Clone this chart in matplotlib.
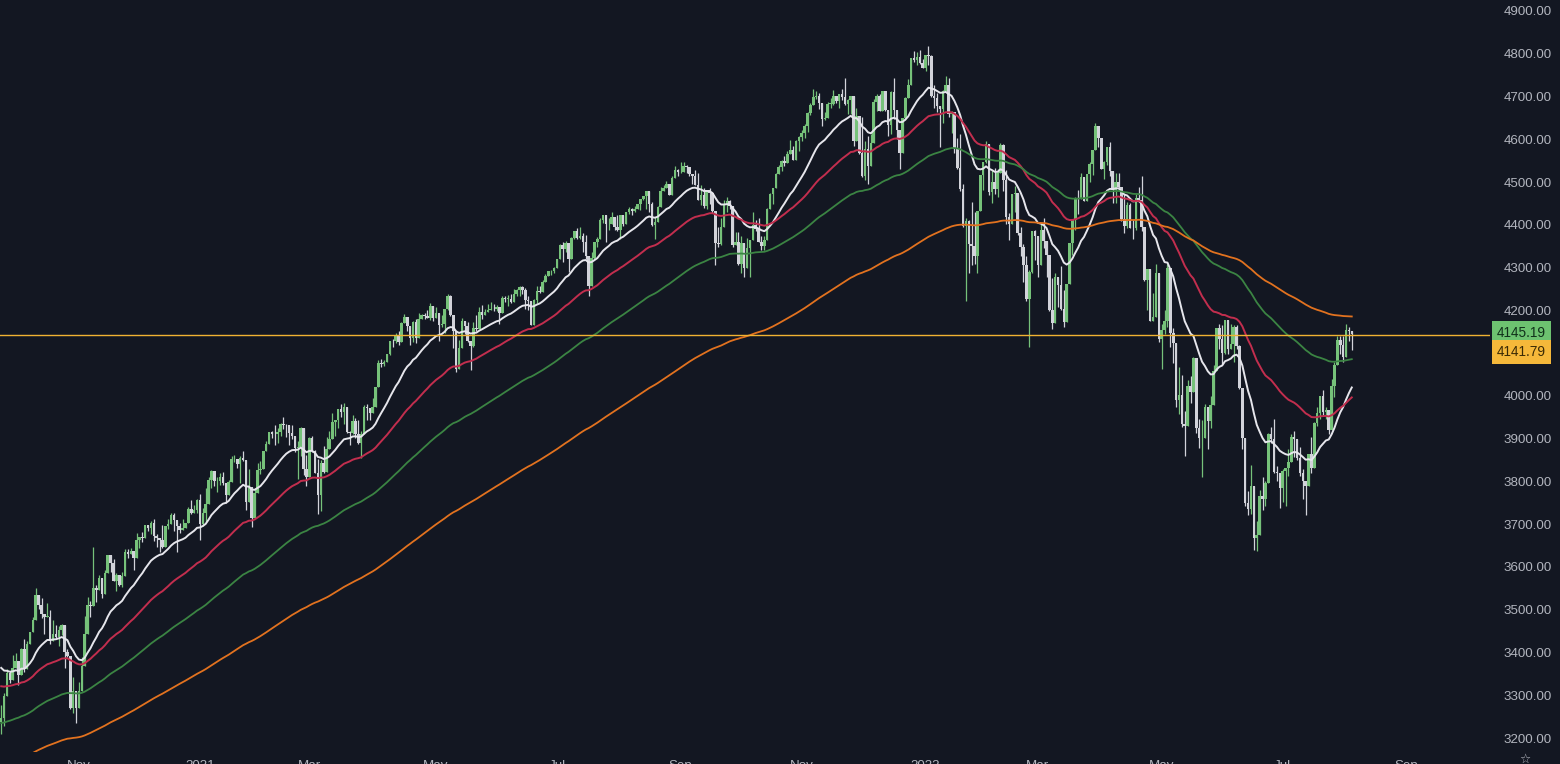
import numpy as np
import pandas as pd
import matplotlib
matplotlib.use("Agg")
import matplotlib.pyplot as plt

# S&P 500 daily bars, 24 Sep 2020 .. 5 Aug 2022 (one row per month)
close = [
    3247, 3298, 3352, 3335, 3363,
    3381, 3348, 3409, 3361, 3419, 3447, 3477, 3534, 3512, 3489, 3483, 3484, 3427, 3443, 3436, 3453, 3465, 3401, 3391, 3271, 3310, 3270,
    3310, 3369, 3443, 3510, 3509, 3551, 3546, 3573, 3537, 3585, 3627, 3610, 3568, 3582, 3558, 3578, 3635, 3630, 3638, 3622,
    3662, 3669, 3667, 3699, 3692, 3702, 3673, 3668, 3663, 3647, 3695, 3701, 3722, 3709, 3695, 3687, 3690, 3703, 3735, 3727, 3732, 3756,
    3701, 3727, 3748, 3804, 3825, 3800, 3801, 3810, 3796, 3768, 3799, 3852, 3853, 3841, 3855, 3850, 3751, 3787, 3714,
    3774, 3826, 3830, 3872, 3887, 3916, 3911, 3910, 3916, 3935, 3933, 3931, 3914, 3907, 3877, 3881, 3925, 3829, 3811,
    3902, 3870, 3820, 3768, 3842, 3821, 3875, 3899, 3939, 3943, 3969, 3963, 3974, 3915, 3913, 3941, 3911, 3889, 3910, 3975, 3971, 3959, 3973,
    4020, 4078, 4074, 4080, 4097, 4129, 4128, 4142, 4125, 4170, 4185, 4163, 4135, 4173, 4135, 4180, 4188, 4187, 4183, 4211, 4181,
    4193, 4165, 4168, 4202, 4233, 4188, 4152, 4063, 4113, 4174, 4163, 4128, 4116, 4159, 4156, 4197, 4188, 4196, 4201, 4204,
    4202, 4208, 4193, 4230, 4227, 4227, 4220, 4239, 4247, 4255, 4247, 4224, 4222, 4166, 4225, 4246, 4242, 4266, 4281, 4291, 4292, 4298,
    4320, 4352, 4344, 4358, 4321, 4370, 4385, 4369, 4374, 4360, 4327, 4258, 4323, 4359, 4367, 4412, 4422, 4401, 4401, 4419, 4395,
    4387, 4423, 4403, 4429, 4437, 4432, 4437, 4448, 4461, 4468, 4480, 4448, 4400, 4406, 4442, 4480, 4486, 4496, 4470, 4509, 4529, 4523,
    4524, 4537, 4535, 4520, 4514, 4493, 4459, 4469, 4443, 4481, 4474, 4433, 4358, 4354, 4396, 4449, 4455, 4443, 4353, 4359, 4308,
    4357, 4300, 4346, 4364, 4400, 4391, 4361, 4351, 4364, 4438, 4471, 4486, 4520, 4536, 4550, 4545, 4566, 4575, 4552, 4596, 4605,
    4614, 4631, 4661, 4680, 4698, 4702, 4685, 4647, 4649, 4683, 4683, 4701, 4689, 4705, 4698, 4683, 4691, 4701, 4595, 4655, 4567,
    4513, 4577, 4538, 4592, 4687, 4701, 4667, 4712, 4669, 4634, 4710, 4669, 4621, 4568, 4649, 4697, 4726, 4791, 4786, 4793, 4779, 4766,
    4797, 4794, 4701, 4696, 4677, 4670, 4713, 4726, 4659, 4663, 4577, 4533, 4483, 4398, 4410, 4356, 4350, 4327, 4432, 4516,
    4547, 4589, 4477, 4501, 4484, 4522, 4587, 4504, 4419, 4402, 4471, 4475, 4380, 4349, 4305, 4226, 4289, 4385, 4374,
    4306, 4387, 4363, 4329, 4201, 4171, 4278, 4260, 4204, 4173, 4262, 4358, 4412, 4463, 4461, 4512, 4456, 4520, 4543, 4576, 4632, 4602, 4530,
    4546, 4583, 4525, 4481, 4500, 4488, 4413, 4397, 4447, 4393, 4392, 4462, 4459, 4394, 4272, 4296, 4175, 4184, 4288, 4132,
    4155, 4175, 4300, 4147, 4123, 3991, 4001, 3935, 3930, 4024, 4008, 4089, 3924, 3901, 3901, 3974, 3941, 3979, 4058, 4158, 4132,
    4101, 4177, 4109, 4121, 4161, 4116, 4018, 3901, 3750, 3735, 3790, 3667, 3675, 3765, 3760, 3796, 3912, 3900, 3822, 3819, 3785,
    3825, 3831, 3845, 3903, 3899, 3854, 3819, 3802, 3790, 3863, 3831, 3937, 3960, 3999, 3962, 3967, 3921, 4024, 4072, 4130,
    4119, 4091, 4155, 4152, 4145.19,
]
high = [
    3278, 3306, 3361, 3357, 3393,
    3398, 3369, 3410, 3432, 3427, 3448, 3483, 3550, 3534, 3528, 3485, 3515, 3500, 3476, 3465, 3461, 3466, 3441, 3409, 3342, 3342, 3305,
    3330, 3389, 3486, 3529, 3521, 3646, 3558, 3581, 3570, 3592, 3628, 3624, 3619, 3585, 3582, 3589, 3643, 3643, 3645, 3637,
    3679, 3670, 3682, 3699, 3698, 3708, 3712, 3678, 3665, 3698, 3695, 3712, 3725, 3726, 3703, 3702, 3712, 3703, 3740, 3756, 3745, 3760,
    3770, 3738, 3784, 3811, 3826, 3817, 3811, 3820, 3823, 3795, 3804, 3859, 3861, 3852, 3860, 3871, 3837, 3830, 3778,
    3784, 3843, 3848, 3872, 3894, 3916, 3919, 3931, 3925, 3937, 3950, 3934, 3916, 3931, 3902, 3895, 3928, 3925, 3861,
    3904, 3906, 3874, 3853, 3851, 3882, 3903, 3918, 3960, 3944, 3970, 3982, 3983, 3969, 3918, 3956, 3949, 3943, 3919, 3978, 3981, 3969, 3995,
    4021, 4084, 4086, 4083, 4098, 4129, 4132, 4148, 4151, 4173, 4192, 4180, 4160, 4175, 4180, 4194, 4191, 4194, 4201, 4218, 4199,
    4209, 4187, 4188, 4202, 4238, 4237, 4162, 4134, 4131, 4183, 4169, 4172, 4117, 4172, 4188, 4209, 4213, 4202, 4214, 4219,
    4216, 4212, 4203, 4234, 4233, 4237, 4238, 4249, 4249, 4256, 4258, 4252, 4233, 4204, 4226, 4256, 4256, 4272, 4286, 4292, 4294, 4302,
    4320, 4356, 4359, 4362, 4331, 4372, 4386, 4393, 4394, 4380, 4376, 4296, 4336, 4359, 4372, 4415, 4423, 4416, 4416, 4430, 4412,
    4422, 4424, 4417, 4429, 4441, 4439, 4445, 4449, 4461, 4468, 4480, 4468, 4454, 4419, 4444, 4489, 4492, 4502, 4495, 4513, 4537, 4531,
    4546, 4546, 4541, 4536, 4519, 4529, 4521, 4492, 4486, 4482, 4486, 4471, 4402, 4395, 4416, 4457, 4465, 4458, 4419, 4384, 4383,
    4375, 4356, 4369, 4365, 4429, 4412, 4416, 4374, 4373, 4439, 4475, 4487, 4521, 4540, 4552, 4560, 4572, 4598, 4584, 4598, 4608,
    4621, 4635, 4664, 4684, 4718, 4714, 4708, 4684, 4663, 4688, 4697, 4715, 4701, 4705, 4718, 4744, 4695, 4702, 4665, 4673, 4650,
    4652, 4595, 4608, 4613, 4694, 4706, 4705, 4713, 4711, 4660, 4712, 4744, 4666, 4569, 4650, 4699, 4740, 4791, 4807, 4805, 4809, 4787,
    4797, 4819, 4797, 4726, 4708, 4673, 4715, 4749, 4744, 4666, 4632, 4603, 4612, 4495, 4417, 4411, 4454, 4429, 4433, 4517,
    4547, 4595, 4542, 4528, 4533, 4530, 4591, 4588, 4528, 4427, 4473, 4490, 4456, 4395, 4356, 4326, 4294, 4386, 4389,
    4372, 4401, 4416, 4355, 4328, 4276, 4288, 4269, 4304, 4248, 4262, 4358, 4412, 4465, 4481, 4522, 4502, 4520, 4546, 4576, 4637, 4627, 4604,
    4549, 4583, 4593, 4503, 4521, 4521, 4464, 4471, 4453, 4451, 4411, 4471, 4488, 4513, 4385, 4297, 4278, 4241, 4308, 4270,
    4169, 4200, 4308, 4271, 4158, 4082, 4068, 4050, 3964, 4038, 4047, 4090, 4077, 3946, 3944, 3982, 3955, 3999, 4073, 4158, 4169,
    4166, 4178, 4142, 4169, 4165, 4165, 4120, 3974, 3839, 3778, 3838, 3729, 3708, 3779, 3810, 3802, 3914, 3928, 3945, 3837, 3818,
    3829, 3832, 3875, 3910, 3919, 3880, 3881, 3829, 3797, 3864, 3903, 3940, 3975, 3999, 4013, 3975, 3961, 4040, 4079, 4140,
    4141, 4141, 4167, 4162, 4151,
]
low = [
    3209, 3228, 3331, 3328, 3340,
    3367, 3324, 3368, 3354, 3385, 3428, 3452, 3496, 3501, 3480, 3443, 3483, 3420, 3436, 3433, 3416, 3440, 3364, 3389, 3268, 3259, 3234,
    3280, 3328, 3405, 3485, 3484, 3547, 3518, 3557, 3527, 3544, 3600, 3589, 3567, 3543, 3556, 3553, 3594, 3620, 3630, 3593,
    3645, 3645, 3658, 3670, 3684, 3678, 3660, 3646, 3634, 3644, 3660, 3689, 3711, 3685, 3636, 3679, 3689, 3690, 3724, 3723, 3731, 3726,
    3663, 3695, 3705, 3764, 3784, 3790, 3776, 3792, 3792, 3749, 3780, 3816, 3845, 3831, 3797, 3847, 3733, 3756, 3694,
    3726, 3792, 3817, 3836, 3875, 3892, 3902, 3885, 3891, 3906, 3923, 3905, 3885, 3900, 3868, 3805, 3860, 3815, 3790,
    3843, 3869, 3819, 3724, 3730, 3819, 3852, 3886, 3916, 3906, 3924, 3950, 3935, 3914, 3886, 3911, 3902, 3888, 3854, 3918, 3944, 3944, 3966,
    3992, 4035, 4068, 4069, 4082, 4096, 4114, 4124, 4120, 4143, 4171, 4151, 4118, 4126, 4124, 4139, 4181, 4180, 4181, 4177, 4174,
    4188, 4128, 4161, 4147, 4201, 4187, 4111, 4057, 4069, 4131, 4144, 4126, 4061, 4114, 4152, 4169, 4180, 4188, 4195, 4203,
    4198, 4198, 4167, 4198, 4219, 4210, 4218, 4221, 4233, 4234, 4239, 4203, 4200, 4165, 4174, 4218, 4241, 4254, 4266, 4280, 4282, 4287,
    4301, 4322, 4313, 4336, 4289, 4330, 4366, 4368, 4366, 4337, 4321, 4233, 4263, 4321, 4348, 4377, 4405, 4360, 4389, 4408, 4387,
    4385, 4367, 4398, 4403, 4425, 4424, 4430, 4436, 4435, 4458, 4437, 4430, 4398, 4368, 4407, 4451, 4481, 4486, 4469, 4474, 4513, 4514,
    4521, 4527, 4522, 4513, 4495, 4493, 4457, 4447, 4439, 4436, 4448, 4427, 4306, 4347, 4353, 4406, 4430, 4436, 4347, 4355, 4307,
    4288, 4279, 4309, 4278, 4385, 4386, 4360, 4342, 4341, 4387, 4448, 4448, 4496, 4524, 4526, 4538, 4551, 4570, 4551, 4563, 4573,
    4595, 4604, 4616, 4657, 4681, 4694, 4671, 4630, 4646, 4651, 4672, 4680, 4685, 4672, 4691, 4681, 4659, 4659, 4585, 4626, 4565,
    4511, 4504, 4495, 4540, 4629, 4667, 4665, 4671, 4666, 4608, 4612, 4648, 4600, 4531, 4584, 4645, 4703, 4734, 4781, 4774, 4776, 4766,
    4759, 4774, 4700, 4672, 4663, 4582, 4638, 4723, 4653, 4614, 4569, 4531, 4480, 4396, 4223, 4288, 4305, 4309, 4288, 4435,
    4482, 4544, 4470, 4452, 4472, 4465, 4548, 4478, 4402, 4364, 4429, 4430, 4377, 4327, 4267, 4222, 4115, 4287, 4318,
    4279, 4323, 4345, 4279, 4199, 4157, 4233, 4209, 4201, 4162, 4187, 4277, 4329, 4388, 4425, 4469, 4455, 4455, 4501, 4517, 4589, 4581, 4530,
    4507, 4539, 4515, 4450, 4451, 4485, 4410, 4381, 4392, 4392, 4367, 4389, 4455, 4385, 4268, 4201, 4175, 4174, 4188, 4125,
    4063, 4145, 4162, 4114, 4077, 3975, 3958, 3928, 3859, 3957, 3984, 4034, 3913, 3877, 3810, 3905, 3875, 3925, 3985, 4077, 4110,
    4074, 4097, 4099, 4109, 4080, 4110, 4017, 3876, 3743, 3722, 3723, 3640, 3637, 3706, 3733, 3743, 3822, 3889, 3820, 3800, 3738,
    3752, 3742, 3813, 3858, 3858, 3850, 3812, 3759, 3722, 3818, 3819, 3860, 3930, 3946, 3955, 3947, 3910, 3948, 3998, 4079,
    4097, 4080, 4096, 4128, 4108,
]
prev_close = 3237  # close of 23 Sep 2020, open of the first bar

holidays = ['2020-11-26', '2020-12-25', '2021-01-01', '2021-01-18', '2021-02-15',
            '2021-04-02', '2021-05-31', '2021-07-05', '2021-09-06', '2021-11-25',
            '2021-12-24', '2022-01-17', '2022-02-21', '2022-04-15', '2022-05-30',
            '2022-06-20', '2022-07-04', '2022-09-05']

# moving averages (EMA) and their values at the left edge of the chart
ma_periods = [20, 50, 100, 200]
ma_start = [3364, 3321, 3235, 3140]
ma_colors = ['#e6e6ec', '#c22e4e', '#3b8443', '#e2721f']
ma_widths = [1.4, 1.4, 1.3, 1.3]

level = 4141.79
price_ticks = list(range(3200, 5000, 100))
tick_months = ['2020-11', '2021-01', '2021-03', '2021-05', '2021-07', '2021-09',
               '2021-11', '2022-01', '2022-03', '2022-05', '2022-07', '2022-09']
tick_labels = ['Nov', '2021', 'Mar', 'May', 'Jul', 'Sep',
               'Nov', '2022', 'Mar', 'May', 'Jul', 'Sep']

bg = '#131722'
txt = '#b2b5be'
up_col = '#76c27a'
dn_col = '#d2d3da'
font = ['Liberation Sans Narrow', 'Liberation Sans', 'DejaVu Sans']

close = np.array(close, dtype=float)
high = np.array(high, dtype=float)
low = np.array(low, dtype=float)
opens = np.r_[prev_close, close[:-1]]
hi = np.maximum(high, np.maximum(opens, close))
lo = np.minimum(low, np.minimum(opens, close))

days = pd.bdate_range('2020-09-24', periods=len(close) + 40, freq='C', holidays=holidays)
x = np.arange(len(close))
tick_pos = [int(np.searchsorted(days, pd.Timestamp(m + '-01'))) for m in tick_months]


def ema(values, n, start):
    out = np.empty_like(values)
    out[0] = start
    a = 2.0 / (n + 1)
    for i in range(1, len(values)):
        out[i] = out[i - 1] + a * (values[i] - out[i - 1])
    return out


fig = plt.figure(figsize=(15.6, 7.64), dpi=100, facecolor=bg)
ax = fig.add_axes([0, 12 / 764, 1490 / 1560, 752 / 764])
ax.set_facecolor(bg)

cols = np.where(close >= opens, up_col, dn_col)
ax.vlines(x, lo, hi, colors=cols, lw=0.9, zorder=2)
ax.bar(x, np.maximum(np.abs(close - opens), 1.5), bottom=np.minimum(opens, close),
       width=0.88, color=cols, lw=0, zorder=3)

for n, s, c, w in zip(ma_periods, ma_start, ma_colors, ma_widths):
    ax.plot(x, ema(close, n, s), color=c, lw=w, zorder=4)

ax.axhline(level, color='#f0b232', lw=1.0, zorder=5)

ax.set_xlim(-0.42, 517)
ax.set_ylim(3167.3, 4925.7)

# the label hidden behind the price boxes is left blank, as on the chart
ax.set_yticks(price_ticks)
ax.set_yticklabels(["" if abs(v - level) < 45 else f"{v:.2f}" for v in price_ticks],
                   family=font)
ax.yaxis.tick_right()
ax.tick_params(axis='y', length=0, pad=10, labelcolor=txt, labelsize=9.6)
ax.set_xticks(tick_pos)
ax.set_xticklabels(tick_labels, family=font)
ax.tick_params(axis='x', length=0, pad=6, labelcolor=txt, labelsize=9.6)
for sp in ax.spines.values():
    sp.set_visible(False)

# last price and level labels on the price scale
box_kw = dict(xycoords=ax.get_yaxis_transform(), textcoords='offset pixels',
              ha='left', va='center', fontsize=9.8, family=font,
              annotation_clip=False, zorder=6)
ax.annotate(f"{close[-1]:.2f}", xy=(1.0, close[-1]), xytext=(7, 1),
            color='#10301a', bbox=dict(boxstyle='square,pad=0.35', fc='#6dc270', ec='none'),
            **box_kw)
ax.annotate(f"{level:.2f}", xy=(1.0, level), xytext=(7, -17),
            color='#3a2a05', bbox=dict(boxstyle='square,pad=0.35', fc='#f5b83a', ec='none'),
            **box_kw)

fig.text(1525 / 1560, -2 / 764, '\u2606', color=txt, fontsize=9, ha='center', va='bottom')

fig.savefig('out.png', dpi=100, facecolor=bg)
